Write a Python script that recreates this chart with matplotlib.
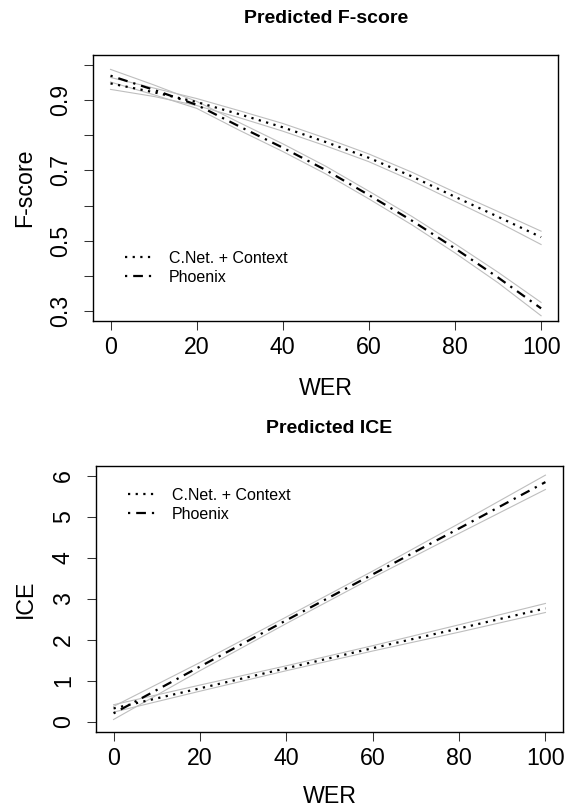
import matplotlib
matplotlib.use("Agg")
import matplotlib.pyplot as plt

plt.rcParams["font.family"] = ["Liberation Sans", "DejaVu Sans"]
plt.rcParams["lines.scale_dashes"] = False

# F-score panel (every 10 WER points)
wer = [0, 10, 20, 30, 40, 50, 60, 70, 80, 90, 100]
fscore_cnet = [0.948, 0.923, 0.895, 0.860, 0.823, 0.781, 0.736, 0.683, 0.625, 0.568, 0.510]
fscore_cnet_hi = [0.965, 0.935, 0.905, 0.870, 0.834, 0.792, 0.747, 0.695, 0.638, 0.583, 0.527]
fscore_cnet_lo = [0.931, 0.911, 0.885, 0.850, 0.812, 0.770, 0.725, 0.671, 0.612, 0.553, 0.489]
fscore_phx = [0.970, 0.930, 0.887, 0.825, 0.765, 0.701, 0.630, 0.557, 0.478, 0.395, 0.307]
fscore_phx_hi = [0.988, 0.944, 0.897, 0.836, 0.776, 0.712, 0.641, 0.569, 0.491, 0.410, 0.324]
fscore_phx_lo = [0.952, 0.916, 0.877, 0.814, 0.754, 0.690, 0.619, 0.545, 0.465, 0.380, 0.286]

# ICE panel
wer_ice = [0, 20, 40, 60, 80, 100]
ice_cnet = [0.33, 0.82, 1.31, 1.80, 2.28, 2.77]
ice_cnet_hi = [0.42, 0.90, 1.37, 1.86, 2.37, 2.89]
ice_cnet_lo = [0.24, 0.75, 1.25, 1.73, 2.19, 2.67]
ice_phx = [0.21, 1.35, 2.48, 3.60, 4.72, 5.85]
ice_phx_hi = [0.38, 1.45, 2.56, 3.68, 4.84, 6.02]
ice_phx_lo = [0.06, 1.25, 2.40, 3.52, 4.60, 5.67]

series_labels = ["C.Net. + Context", "Phoenix"]
xticks = [0, 20, 40, 60, 80, 100]
fscore_ticks = [0.3, 0.4, 0.5, 0.6, 0.7, 0.8, 0.9, 1.0]
fscore_ticklabels = ["0.3", "", "0.5", "", "0.7", "", "0.9", ""]
ice_ticks = [0, 1, 2, 3, 4, 5, 6]

W, H = 568, 808
DOTTED = (0, (1.6, 3.9))
DOTDASH = (0, (1.6, 4.3, 7.0, 4.3))
CI_COLOR = "#bebebe"

fig = plt.figure(figsize=(W / 100, H / 100), dpi=100)
fig.patch.set_facecolor("white")


def px_box(left, top, right, bottom):
    return [left / W, 1 - bottom / H, (right - left) / W, (bottom - top) / H]


def style_axes(ax):
    for sp in ax.spines.values():
        sp.set_linewidth(1.0)
    ax.tick_params(axis="both", direction="out", length=6.5, width=0.75,
                   labelsize=16.7, color="#333333")
    ax.tick_params(axis="x", pad=4)
    ax.tick_params(axis="y", pad=9)
    for lab in ax.get_yticklabels():
        lab.set_rotation(90)
        lab.set_va("center")


def draw_panel(ax, x, a, a_hi, a_lo, b, b_hi, b_lo):
    for band in (a_hi, a_lo, b_hi, b_lo):
        ax.plot(x, band, color=CI_COLOR, lw=0.8, zorder=1)
    ax.plot(x, a, color="black", lw=1.6, linestyle=DOTTED, dash_capstyle="butt",
            label=series_labels[0], zorder=2)
    ax.plot(x, b, color="black", lw=1.6, linestyle=DOTDASH, dash_capstyle="butt",
            label=series_labels[1], zorder=2)


def add_legend(ax, left_px, top_px):
    ax.legend(loc="upper left", bbox_to_anchor=(left_px / W, 1 - top_px / H),
              bbox_transform=fig.transFigure, frameon=False, fontsize=11.5,
              handlelength=1.69, handletextpad=1.04, labelspacing=0.22,
              borderpad=0, borderaxespad=0)


# ---- top panel: F-score
ax1 = fig.add_axes(px_box(93.3, 55, 558.3, 321))
draw_panel(ax1, wer, fscore_cnet, fscore_cnet_hi, fscore_cnet_lo,
           fscore_phx, fscore_phx_hi, fscore_phx_lo)
ax1.set_xlim(-4, 104)
ax1.set_ylim(0.271, 1.029)
ax1.set_xticks(xticks)
ax1.set_yticks(fscore_ticks)
ax1.set_yticklabels(fscore_ticklabels)
style_axes(ax1)
add_legend(ax1, 125, 251)
fig.text(325.8 / W, 1 - 23 / H, "Predicted F-score", ha="center", va="baseline",
         fontsize=14, fontweight="bold")
fig.text(325.8 / W, 1 - 395 / H, "WER", ha="center", va="baseline", fontsize=16.7)
fig.text(24.5 / W, 1 - 188 / H, "F-score", ha="center", va="center",
         rotation=90, fontsize=16.7)

# ---- bottom panel: ICE
ax2 = fig.add_axes(px_box(96.3, 465.7, 562.7, 732))
draw_panel(ax2, wer_ice, ice_cnet, ice_cnet_hi, ice_cnet_lo,
           ice_phx, ice_phx_hi, ice_phx_lo)
ax2.set_xlim(-4, 104)
ax2.set_ylim(-0.245, 6.25)
ax2.set_xticks(xticks)
ax2.set_yticks(ice_ticks)
style_axes(ax2)
add_legend(ax2, 128, 488)
fig.text(329.5 / W, 1 - 433 / H, "Predicted ICE", ha="center", va="baseline",
         fontsize=14, fontweight="bold")
fig.text(329.5 / W, 1 - 803 / H, "WER", ha="center", va="baseline", fontsize=16.7)
fig.text(25 / W, 1 - 599 / H, "ICE", ha="center", va="center",
         rotation=90, fontsize=16.7)

fig.savefig("out.png", dpi=100, facecolor="white")
plt.close(fig)
